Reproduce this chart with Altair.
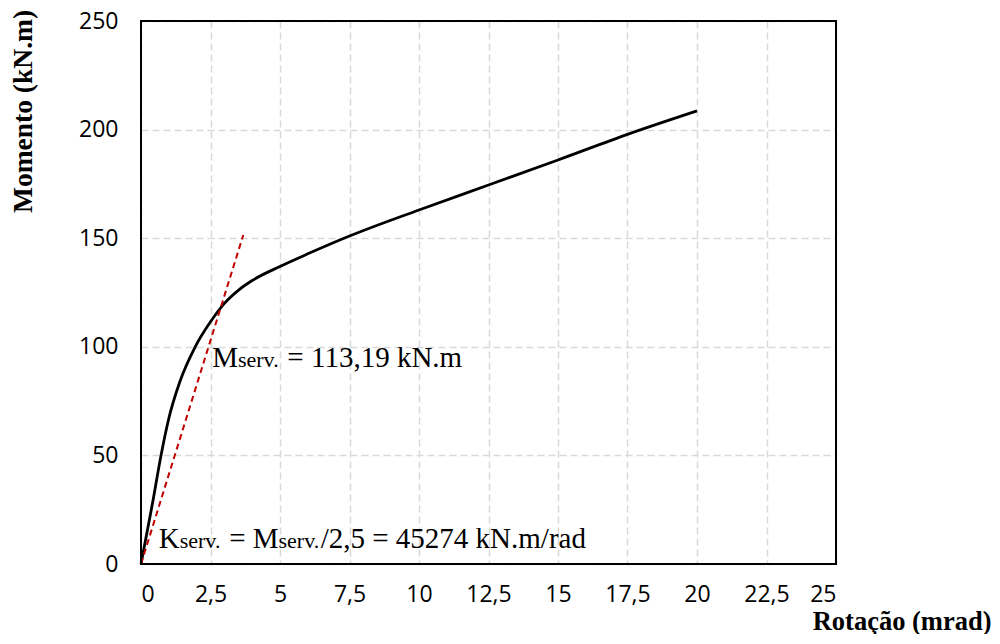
import altair as alt
import pandas as pd

# Curve data (rotation in mrad, moment in kN.m)
rotacao = [0, 0.4, 0.72, 1.0, 1.4, 1.95, 2.5, 3.0, 3.5, 4.0, 5.0, 6.0, 7.5,
           10, 12.5, 15, 17.5, 20]
momento = [0, 27, 50, 67, 84, 100, 111.5, 120, 126, 130.5, 137, 142.8, 151,
           163.0, 174.5, 186.0, 197.8, 208.6]

# Secant stiffness line (red dashed)
k_rot = [0, 3.68]
k_mom = [0, 151.5]

x_ticks = [0, 2.5, 5, 7.5, 10, 12.5, 15, 17.5, 20, 22.5, 25]
y_ticks = [0, 50, 100, 150, 200, 250]

# Annotation anchors (data coords)
ann1 = {"x": 2.56, "y": 90.8}
ann2 = {"x": 0.64, "y": 7.2}
ann1_parts = [("M", 0, 29), ("serv.", 25.8, 22), ("= 113,19 kN.m", 75.2, 29)]
ann2_parts = [("K", 0, 29), ("serv.", 20.9, 22), ("= M", 70.4, 29),
              ("serv.", 119.7, 22), ("/2,5 = 45274 kN.m/rad", 161.9, 29)]

W, H = 695, 543

curve = pd.DataFrame({"rot": rotacao, "mom": momento})
kline = pd.DataFrame({"rot": k_rot, "mom": k_mom})

xscale = alt.Scale(domain=[0, 25], nice=False)
yscale = alt.Scale(domain=[0, 250], nice=False)

xaxis = alt.Axis(
    values=x_ticks, labelExpr="replace(format(datum.value, '.1~f'), '.', ',')",
    grid=True, gridDash=[7, 4], gridColor="#d9d9d9", gridWidth=1.5,
    ticks=False, tickSize=0, domain=False, labelPadding=19,
    labelFont="Open Sans", labelFontSize=23, labelColor="#000",
    title="Rotação (mrad)", titleFont="Liberation Serif", titleFontSize=26.5,
    titleFontWeight="bold", titleColor="#000", titleX=850, titleY=65,
    titleAlign="right", titleBaseline="alphabetic",
)
yaxis = alt.Axis(
    values=y_ticks, grid=True, gridDash=[7, 4], gridColor="#d9d9d9", gridWidth=1.5,
    ticks=False, tickSize=0, domain=False, labelPadding=23,
    labelFont="Open Sans", labelFontSize=23, labelColor="#000",
    title="Momento (kN.m)", titleFont="Liberation Serif", titleFontSize=27.5,
    titleFontWeight="bold", titleColor="#000", titleX=-110, titleY=90,
    titleAlign="center", titleBaseline="alphabetic", titleAngle=270,
)

base_curve = alt.Chart(curve).mark_line(color="black", strokeWidth=2.8, interpolate="monotone").encode(
    x=alt.X("rot:Q", scale=xscale, axis=xaxis),
    y=alt.Y("mom:Q", scale=yscale, axis=yaxis),
)
red = alt.Chart(kline).mark_line(color="#c00000", strokeWidth=2, strokeDash=[6, 4]).encode(
    x=alt.X("rot:Q", scale=xscale), y=alt.Y("mom:Q", scale=yscale)
)

frame = alt.Chart(pd.DataFrame({"a": [0]})).mark_rect(
    filled=False, stroke="black", strokeWidth=2, fill=None
).encode(x=alt.value(0), x2=alt.value(W), y=alt.value(0), y2=alt.value(H))

layers = [base_curve, red]
for anchor, parts in ((ann1, ann1_parts), (ann2, ann2_parts)):
    df = pd.DataFrame([anchor])
    for txt, dx, fs in parts:
        layers.append(
            alt.Chart(df).mark_text(
                text=txt, dx=dx, fontSize=fs, font="Liberation Serif", color="black",
                align="left", baseline="alphabetic",
            ).encode(x=alt.X("x:Q", scale=xscale), y=alt.Y("y:Q", scale=yscale))
        )
layers.append(frame)

chart = alt.layer(*layers).properties(
    width=W, height=H,
    autosize=alt.AutoSizeParams(type="none"),
    padding={"left": 133, "top": 13, "right": 156, "bottom": 70},
).configure_view(stroke=None)

chart.save("out.html", embed_options={"renderer": "svg", "actions": False})
